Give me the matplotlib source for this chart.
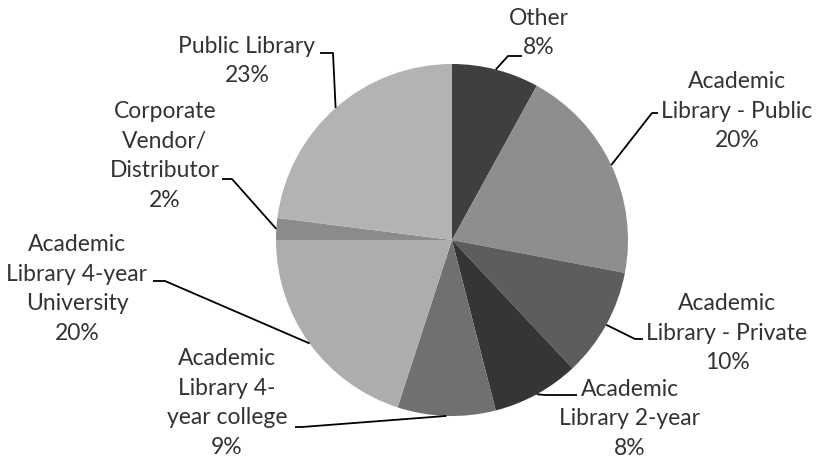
import numpy as np
import matplotlib
matplotlib.use("Agg")
import matplotlib.pyplot as plt

# share of respondents by library type
labels = ["Other", "Academic\nLibrary - Public", "Academic\nLibrary - Private",
          "Academic\nLibrary 2-year", "Academic\nLibrary 4-\nyear college",
          "Academic\nLibrary 4-year\nUniversity", "Corporate\nVendor/\nDistributor",
          "Public Library"]
shares = [8, 20, 10, 8, 9, 20, 2, 23]
colors = ["#3f3f3f", "#8e8e8e", "#5d5d5d", "#353535", "#707070",
          "#adadad", "#8b8b8b", "#b3b3b3"]

W, H = 820, 462
CX, CY, R = 452, 240, 176   # pie centre / radius, image pixels

# label layout in image pixels: text centre, elbow, end of leader next to text
text_pos = [(539, 33), (737, 111), (727, 333), (630, 419),
            (227, 403), (77, 289), (165, 156), (247, 61)]
elbows = [(508, 56), (652, 113), (635, 339), (545, 395),
          (302, 427), (165, 281), (232, 179), (333, 53)]
ends = [(522, 56), (658, 113), (643, 339), (577, 395),
        (295, 427), (153, 281), (222, 179), (320, 53)]

fig = plt.figure(figsize=(W / 100, H / 100), dpi=100)
ax = fig.add_axes([0, 0, 1, 1])

wedges, _ = ax.pie(shares, colors=colors, startangle=90, counterclock=False,
                   center=(CX, H - CY), radius=R, frame=True,
                   wedgeprops=dict(linewidth=0))
ax.set_xlim(0, W)
ax.set_ylim(0, H)
ax.set_aspect("equal")
ax.axis("off")

for w, lab, val, tp, el, en in zip(wedges, labels, shares, text_pos, elbows, ends):
    mid = np.radians((w.theta1 + w.theta2) / 2)
    x0 = CX + R * np.cos(mid)
    y0 = (H - CY) + R * np.sin(mid)
    ax.plot([x0, el[0], en[0]], [y0, H - el[1], H - en[1]],
            color="black", lw=1.3, solid_capstyle="butt")
    ax.text(tp[0], H - tp[1], "{}\n{}%".format(lab, val), ha="center", va="center",
            fontsize=16.5, family="Lato", color="#333333", linespacing=1.52)

fig.savefig("out.png", dpi=100)
